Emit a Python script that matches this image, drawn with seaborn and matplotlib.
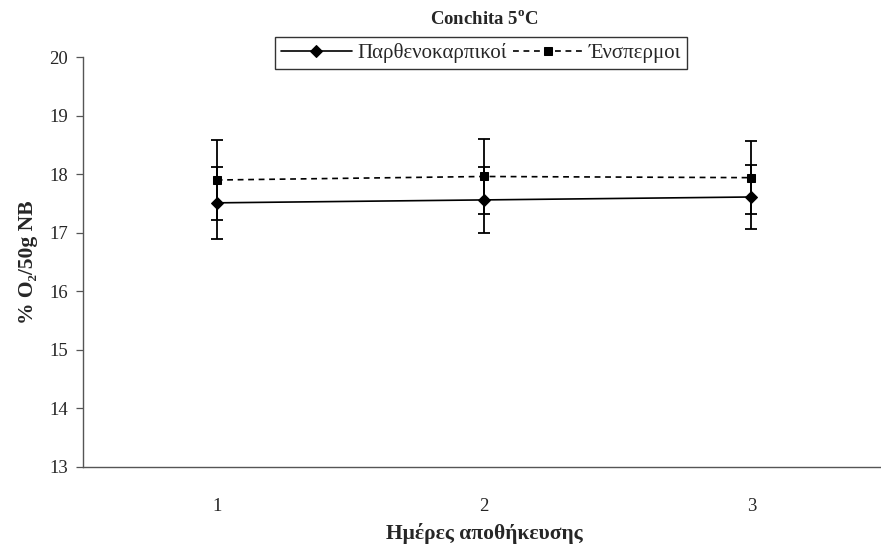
import matplotlib
matplotlib.use("Agg")
import matplotlib.pyplot as plt
import seaborn as sns
import pandas as pd

# storage days and measured O2 per series
days = [1, 2, 3]
parth_mean = [17.51, 17.56, 17.61]
parth_err = [0.61, 0.56, 0.55]
ensp_mean = [17.90, 17.96, 17.94]
ensp_err = [0.68, 0.64, 0.62]
series_names = ["Παρθενοκαρπικοί", "Ένσπερμοι"]

sns.set_theme(style="white")
plt.rcParams["font.family"] = ["Liberation Serif", "DejaVu Serif"]
plt.rcParams["mathtext.fontset"] = "custom"
plt.rcParams["mathtext.rm"] = "Liberation Serif"
plt.rcParams["mathtext.bf"] = "Liberation Serif:bold"

df = pd.concat([
    pd.DataFrame({"day": days, "o2": parth_mean, "err": parth_err, "series": series_names[0]}),
    pd.DataFrame({"day": days, "o2": ensp_mean, "err": ensp_err, "series": series_names[1]}),
])

fig = plt.figure(figsize=(8.81, 5.5), dpi=100)
ax = fig.add_axes([83 / 881, 1 - 467 / 550, 802 / 881, 410 / 550])

styles = {
    series_names[0]: dict(marker="D", ls="-", ms=6),
    series_names[1]: dict(marker="s", ls=(0, (3.5, 2.8)), ms=6),
}

for name in series_names:
    sub = df[df["series"] == name]
    st = styles[name]
    ax.errorbar(sub["day"], sub["o2"], yerr=sub["err"], fmt="none",
                ecolor="black", elinewidth=1.3, capsize=4.6, capthick=1.3, zorder=2)
    sns.lineplot(data=sub, x="day", y="o2", ax=ax, color="black",
                 linestyle=st["ls"], linewidth=1.2, marker=st["marker"],
                 markersize=st["ms"], markeredgecolor="black", label=name,
                 zorder=3, errorbar=None)

ax.set_xlim(0.5, 3.5)
ax.set_ylim(13, 20)
ax.set_yticks(range(13, 21))
ax.set_xticks(days)
ax.set_xticks([1.5, 2.5], minor=True)
ax.tick_params(axis="x", which="major", length=0, pad=22, labelsize=13.5)
ax.tick_params(axis="x", which="minor", length=5, width=0.9, color="#555555", direction="out")
ax.tick_params(axis="y", length=5, width=0.9, color="#555555", direction="out",
               left=True, labelsize=13.5, pad=6)
for side in ("top", "right"):
    ax.spines[side].set_visible(False)
for side in ("left", "bottom"):
    ax.spines[side].set_color("#555555")
    ax.spines[side].set_linewidth(1.0)
ax.grid(False)

ax.set_xlabel("Ημέρες αποθήκευσης", fontsize=15.5, fontweight="bold")
ax.xaxis.set_label_coords(0.5, (467 - 533) / 410)
ax.xaxis.label.set_va("center")
ax.set_ylabel("% O₂/50g NB", fontsize=15.5, fontweight="bold", labelpad=8)
fig.text(484 / 881, 1 - 19 / 550, r"Conchita 5$^{\mathbf{o}}$C", ha="center", va="center",
         fontsize=13.5, fontweight="bold")

leg = ax.legend(loc="center", ncol=2, frameon=True, fontsize=15, handlelength=3.4,
                handletextpad=0.25, columnspacing=0.3, borderpad=0.3, fancybox=False,
                edgecolor="black")
leg.set_bbox_to_anchor((481 / 881, 1 - 53 / 550), transform=fig.transFigure)
leg.get_frame().set_linewidth(1.0)

fig.savefig("out.png", dpi=100, facecolor="white")
